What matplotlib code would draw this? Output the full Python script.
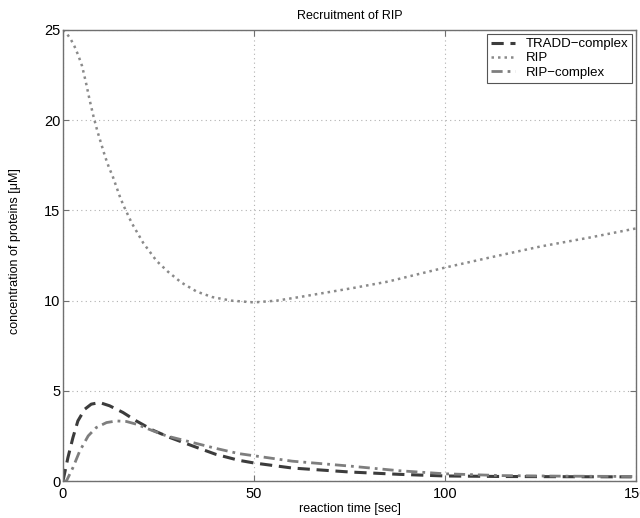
import matplotlib
matplotlib.use("Agg")
from matplotlib import pyplot as plt

plt.rcParams['font.family'] = ['Liberation Sans', 'DejaVu Sans']

# TRADD-complex (dashed)
t_tradd = [0, 1.3, 2.6, 3.9, 5.7, 7.4, 9.6, 12.2, 15.7, 19.2, 23.6, 28, 34, 40, 46,
           50, 60, 75, 88, 100, 115, 130, 150]
tradd = [0, 1.3, 2.4, 3.33, 3.98, 4.26, 4.35, 4.17, 3.8, 3.33, 2.81, 2.41, 1.94, 1.48,
         1.15, 1.0, 0.72, 0.5, 0.37, 0.28, 0.25, 0.24, 0.23]

# RIP (dotted)
t_rip = [0, 1, 2, 3, 4, 5, 6, 7, 8, 9, 10, 11, 12, 13, 14, 15, 16, 18, 21, 24.5,
         27.5, 31, 35, 39, 44, 50, 56, 62, 69, 76, 85, 100, 112, 125, 138, 150]
rip = [25.0, 24.8, 24.5, 24.1, 23.6, 23.0, 22.1, 21.1, 20.2, 19.4, 18.7, 18.0, 17.4,
       16.9, 16.3, 15.7, 15.2, 14.3, 13.2, 12.2, 11.6, 11.0, 10.5, 10.2, 10.0, 9.9,
       10.0, 10.2, 10.45, 10.7, 11.05, 11.83, 12.4, 13.0, 13.5, 14.0]

# RIP-complex (dash-dot)
t_ripc = [0, 0.9, 2.6, 4.4, 6.6, 8.7, 11.4, 14, 16.6, 19.2, 23.6, 27.1, 34, 40, 46,
          50, 60, 75, 88, 100, 115, 130, 150]
ripc = [0, 0, 0.74, 1.67, 2.5, 2.96, 3.24, 3.33, 3.3, 3.15, 2.78, 2.5, 2.13, 1.81,
        1.52, 1.4, 1.1, 0.83, 0.57, 0.4, 0.3, 0.27, 0.25]

fig = plt.figure(figsize=(6.4, 5.18), dpi=100)
ax = fig.add_axes([0.0984, 0.0714, 0.8953, 0.8707])

ax.plot(t_tradd, tradd, color='#3c3c3c', linestyle=(0, (4, 2.2)), linewidth=2.2,
        label='TRADD\u2212complex')
ax.plot(t_rip, rip, color='#8a8a8a', linestyle=(0, (1, 1.6)), linewidth=1.8,
        label='RIP')
ax.plot(t_ripc, ripc, color='#7e7e7e', linestyle=(0, (4, 1.8, 1, 1.8)), linewidth=2.0,
        label='RIP\u2212complex')

ax.set_xlim(0, 150)
ax.set_ylim(0, 25)
ax.set_xticks([0, 50, 100, 150])
ax.set_yticks([0, 5, 10, 15, 20, 25])
ax.grid(True, linestyle=(0, (1, 3)), color='#b0b0b0', linewidth=0.8)
ax.tick_params(direction='in', top=True, right=True, labelsize=10.5, length=4,
               color='#707070')
ax.tick_params(axis='x', pad=4)
ax.tick_params(axis='y', pad=2)
for s in ax.spines.values():
    s.set_color('#707070')
    s.set_linewidth(1.0)

ax.set_title('Recruitment of RIP', fontsize=9, pad=8)
ax.set_xlabel('reaction time [sec]', fontsize=9)
ax.set_ylabel('concentration of proteins [\u03bcM]', fontsize=9)
ax.xaxis.set_label_coords(0.5, -0.049)
ax.yaxis.set_label_coords(-0.074, 0.51)

leg = ax.legend(loc='upper right', fontsize=9.5, fancybox=False, framealpha=1,
                edgecolor='#555555', handlelength=1.8, borderaxespad=0.3,
                labelspacing=0.15, borderpad=0.3)
leg.get_frame().set_linewidth(0.8)

fig.savefig('out.png', dpi=100)
